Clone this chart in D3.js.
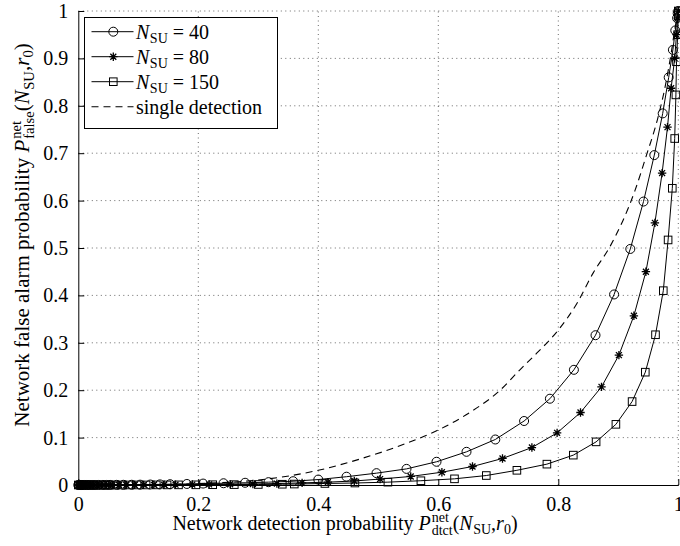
<!DOCTYPE html>
<html><head><meta charset="utf-8">
<script src="https://cdn.jsdelivr.net/npm/d3@7"></script>
<style>
body{margin:0;background:#fff;}
svg{display:block;}
text{font-family:"Liberation Serif","Times New Roman",serif;fill:#000;}
</style></head>
<body><svg id="c" width="680" height="546"></svg>
<script>
// ---------- data ----------
const xTicks = [0, 0.2, 0.4, 0.6, 0.8, 1];
const xTickLabels = ["0", "0.2", "0.4", "0.6", "0.8", "1"];
const yTicks = [0, 0.1, 0.2, 0.3, 0.4, 0.5, 0.6, 0.7, 0.8, 0.9, 1];
const yTickLabels = ["0", "0.1", "0.2", "0.3", "0.4", "0.5", "0.6", "0.7", "0.8", "0.9", "1"];

// N_SU = 40 (circles): [detection, false alarm]
const series40 = [[0,0],[0.003,0],[0.006,0],[0.01,0],[0.014,0],[0.018,0],[0.023,0],[0.028,0],[0.034,0.0001],[0.041,0.0001],[0.047,0.0001],[0.053,0.0002],[0.064,0.0003],[0.075,0.0004],[0.089,0.0005],[0.103,0.0007],[0.12,0.001],[0.136,0.0013],[0.153,0.0017],[0.181,0.0022],[0.208,0.003],[0.242,0.0037],[0.278,0.0047],[0.317,0.006],[0.358,0.008],[0.400,0.0115],[0.447,0.0175],[0.497,0.025],[0.547,0.034],[0.597,0.049],[0.647,0.070],[0.695,0.096],[0.743,0.135],[0.786,0.182],[0.826,0.243],[0.862,0.316],[0.893,0.402],[0.920,0.498],[0.942,0.598],[0.960,0.696],[0.974,0.784],[0.984,0.860],[0.991,0.918],[0.995,0.959],[0.998,0.985],[0.999,0.995],[1,1]];
// N_SU = 80 (stars)
const series80 = [[0,0],[0.003,0],[0.006,0],[0.01,0],[0.014,0],[0.019,0],[0.024,0],[0.03,0],[0.036,0],[0.043,0],[0.05,0],[0.057,0.0001],[0.068,0.0001],[0.08,0.0001],[0.094,0.0002],[0.109,0.0003],[0.126,0.0004],[0.143,0.0005],[0.162,0.0007],[0.19,0.0009],[0.218,0.0012],[0.253,0.0016],[0.291,0.0022],[0.331,0.003],[0.373,0.0045],[0.416,0.006],[0.46,0.0085],[0.503,0.0125],[0.554,0.018],[0.606,0.027],[0.657,0.039],[0.707,0.056],[0.756,0.079],[0.798,0.110],[0.837,0.153],[0.872,0.207],[0.901,0.274],[0.926,0.357],[0.946,0.450],[0.961,0.553],[0.973,0.658],[0.982,0.755],[0.988,0.837],[0.994,0.900],[0.997,0.95],[0.999,0.985],[1,1]];
// N_SU = 150 (squares)
const series150 = [[0,0],[0.003,0],[0.006,0],[0.01,0],[0.014,0],[0.019,0],[0.025,0],[0.031,0],[0.038,0],[0.045,0],[0.053,0],[0.061,0],[0.072,0],[0.084,0.0001],[0.098,0.0001],[0.113,0.0001],[0.13,0.0002],[0.148,0.0002],[0.167,0.0003],[0.196,0.0004],[0.224,0.0006],[0.26,0.0008],[0.3,0.0011],[0.34,0.0016],[0.36,0.002],[0.411,0.0032],[0.461,0.0042],[0.516,0.006],[0.571,0.009],[0.627,0.013],[0.680,0.020],[0.731,0.031],[0.781,0.044],[0.825,0.063],[0.863,0.091],[0.896,0.128],[0.923,0.176],[0.945,0.238],[0.962,0.317],[0.975,0.410],[0.983,0.517],[0.990,0.626],[0.994,0.731],[0.996,0.823],[0.997,0.893],[0.999,0.95],[1,0.99],[1,1]];
// single detection (dashed)
const seriesSingle = [[0,0],[0.1,0.0003],[0.2,0.003],[0.3,0.0105],[0.4,0.031],[0.47,0.055],[0.547,0.088],[0.6,0.116],[0.65,0.151],[0.703,0.2],[0.736,0.243],[0.764,0.278],[0.8,0.327],[0.831,0.383],[0.858,0.447],[0.887,0.505],[0.928,0.622],[0.947,0.696],[0.965,0.77],[0.978,0.840],[0.988,0.91],[0.994,0.96],[1,1]];

const legendItems = [
  {n: "40", marker: "circle"},
  {n: "80", marker: "star"},
  {n: "150", marker: "square"},
  {single: true}
];

// ---------- layout ----------
const svg = d3.select("#c");
const x = d3.scaleLinear().domain([0, 1]).range([78.3, 678.3]);
const y = d3.scaleLinear().domain([0, 1]).range([485, 11]);
const FS = 20;

// grid
const grid = svg.append("g");
grid.selectAll(".gx").data(xTicks.slice(1)).join("line")
  .attr("x1", d => x(d)).attr("x2", d => x(d)).attr("y1", y(0)).attr("y2", y(1))
  .attr("stroke", "#444").attr("stroke-width", 0.8).attr("stroke-dasharray", "1,3.5");
grid.selectAll(".gy").data(yTicks.slice(1)).join("line")
  .attr("x1", x(0)).attr("x2", x(1)).attr("y1", d => y(d)).attr("y2", d => y(d))
  .attr("stroke", "#444").attr("stroke-width", 0.8).attr("stroke-dasharray", "1,3.5");

// axes
const xAxis = d3.axisBottom(x).tickValues(xTicks).tickFormat((d, i) => xTickLabels[i]).tickSizeInner(-6).tickSizeOuter(0).tickPadding(12);
const yAxis = d3.axisLeft(y).tickValues(yTicks).tickFormat((d, i) => yTickLabels[i]).tickSizeInner(-6).tickSizeOuter(0).tickPadding(10);
const gx = svg.append("g").attr("transform", `translate(0,${y(0)})`).call(xAxis);
const gy = svg.append("g").attr("transform", `translate(${x(0)},0)`).call(yAxis);
[gx, gy].forEach(g => {
  g.select(".domain").attr("stroke", "#000").attr("stroke-width", 1);
  g.selectAll(".tick line").attr("stroke", "#000");
  g.selectAll(".tick text").style("font-family", '"Liberation Serif",serif').style("font-size", FS + "px").attr("fill", "#000");
});
gx.selectAll(".tick text").attr("dy", "0.71em");

// markers
function drawMarker(g, type, cx, cy) {
  if (type === "circle") {
    g.append("circle").attr("cx", cx).attr("cy", cy).attr("r", 4.5)
      .attr("fill", "none").attr("stroke", "#000").attr("stroke-width", 1);
  } else if (type === "square") {
    g.append("rect").attr("x", cx - 3.8).attr("y", cy - 3.8).attr("width", 7.6).attr("height", 7.6)
      .attr("fill", "none").attr("stroke", "#000").attr("stroke-width", 1);
  } else if (type === "star") {
    const r = 4.2;
    const p = [];
    for (let k = 0; k < 4; k++) {
      const a = k * Math.PI / 4;
      p.push(`M${cx + r * Math.cos(a)},${cy + r * Math.sin(a)}L${cx - r * Math.cos(a)},${cy - r * Math.sin(a)}`);
    }
    g.append("path").attr("d", p.join("")).attr("stroke", "#000").attr("stroke-width", 1.3).attr("fill", "none");
  }
}

const line = d3.line().x(d => x(d[0])).y(d => y(d[1]));
const plot = svg.append("g");
plot.append("path").datum(seriesSingle).attr("d", line.curve(d3.curveMonotoneX))
  .attr("fill", "none").attr("stroke", "#000").attr("stroke-width", 1.1).attr("stroke-dasharray", "7,5");
line.curve(d3.curveLinear);
[[series40, "circle"], [series80, "star"], [series150, "square"]].forEach(([s, m]) => {
  plot.append("path").datum(s).attr("d", line).attr("fill", "none").attr("stroke", "#000").attr("stroke-width", 1);
  const mg = plot.append("g");
  s.forEach(d => drawMarker(mg, m, x(d[0]), y(d[1])));
});

// rich text helper: pieces laid out sequentially
function rich(parent, pieces, size) {
  const g = parent.append("g");
  let cx = 0;
  pieces.forEach(p => {
    if (p.stack) {
      let w = 0;
      p.stack.forEach(q => {
        const t = g.append("text").attr("x", cx).attr("y", q.dy).style("font-size", q.size + "px").text(q.t);
        if (q.italic) t.style("font-style", "italic");
        w = Math.max(w, t.node().getComputedTextLength());
      });
      cx += w + (p.after || 0);
    } else {
      const t = g.append("text").attr("x", cx).attr("y", p.dy || 0).style("font-size", (p.size || size) + "px").text(p.t);
      if (p.italic) t.style("font-style", "italic");
      if (p.ws) t.attr("xml:space", "preserve").style("white-space", "pre");
      cx += t.node().getComputedTextLength() + (p.after || 0);
    }
  });
  return {g, width: cx};
}

function nsuPieces(sz) {
  return [{t: "N", italic: true, after: 0.5}, {t: "SU", size: sz * 0.7, dy: sz * 0.22}];
}

// x label
{
  const pcs = [{t: "Network detection probability ", ws: true},
    {t: "P", italic: true, after: 1},
    {stack: [{t: "net", size: 14, dy: -8}, {t: "dtct", size: 14, dy: 5}], after: 0},
    {t: "("}, ...nsuPieces(FS), {t: ","}, {t: "r", italic: true}, {t: "0", size: 14, dy: 4}, {t: ")"}];
  const r = rich(svg, pcs, FS);
  r.g.attr("transform", `translate(${345 - r.width / 2},530)`);
}
// y label
{
  const YS = 21;
  const pcs = [{t: "Network false alarm probability ", ws: true},
    {t: "P", italic: true, after: 1},
    {stack: [{t: "net", size: 14.5, dy: -8.5}, {t: "false", size: 14.5, dy: 5}], after: 0},
    {t: "("}, ...nsuPieces(YS), {t: ","}, {t: "r", italic: true}, {t: "0", size: 14.5, dy: 4}, {t: ")"}];
  const r = rich(svg, pcs, YS);
  r.g.attr("transform", `translate(29,${235 + r.width / 2}) rotate(-90)`);
}

// legend
{
  const lg = svg.append("g");
  lg.append("rect").attr("x", 84.5).attr("y", 17.5).attr("width", 193).attr("height", 111)
    .attr("fill", "#fff").attr("stroke", "#000").attr("stroke-width", 1);
  const rows = [31.7, 56.7, 81.7, 106.7];
  legendItems.forEach((it, i) => {
    const yy = rows[i];
    const l = lg.append("line").attr("x1", 91.5).attr("x2", 133.5).attr("y1", yy).attr("y2", yy)
      .attr("stroke", "#000").attr("stroke-width", it.single ? 1.1 : 1);
    if (it.single) l.attr("stroke-dasharray", "7,5");
    else drawMarker(lg, it.marker, 113.3, yy);
    const pcs = it.single ? [{t: "single detection"}] : [...nsuPieces(FS), {t: " = " + it.n, ws: true}];
    const r = rich(lg, pcs, FS);
    r.g.attr("transform", `translate(136,${yy + 7})`);
  });
}
</script></body></html>
